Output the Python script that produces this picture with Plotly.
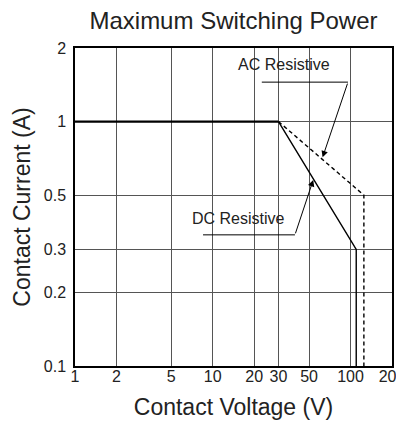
import numpy as np
import plotly.graph_objects as go

# switching power limits (log-log)
dc_v = [1, 30, 110, 110]
dc_a = [1, 1, 0.3, 0.1]
ac_v = [30, 125, 125]
ac_a = [1, 0.5, 0.1]

x_ticks = [1, 2, 5, 10, 20, 30, 50, 100, 200]
y_ticks = [0.1, 0.2, 0.3, 0.5, 1, 2]
y_labels = ['0.1', '0.2', '0.3', '0.5', '1', '2']

# leader lines: text position, elbow start, elbow end, arrow tip
labels = ['AC Resistive', 'DC Resistive']
label_pos = [(32.9, 1.72), (15.5, 0.40)]
leader_start = [(22.7, 1.45), (8.5, 0.344)]
leader_end = [(95.8, 1.45), (39.5, 0.344)]
arrow_tip = [(62.7, 0.714), (53.6, 0.577)]

font = 'Arial, Liberation Sans, sans-serif'
lw = 1.4

fig = go.Figure()
fig.add_trace(go.Scatter(x=dc_v[:2], y=dc_a[:2], mode='lines',
                         line=dict(color='black', width=2.2), hoverinfo='skip'))
fig.add_trace(go.Scatter(x=dc_v[1:], y=dc_a[1:], mode='lines',
                         line=dict(color='black', width=lw), hoverinfo='skip'))
fig.add_trace(go.Scatter(x=ac_v, y=ac_a, mode='lines',
                         line=dict(color='black', width=lw, dash='4px,3px'), hoverinfo='skip'))

annotations = []
for i, name in enumerate(labels):
    s, e, t = leader_start[i], leader_end[i], arrow_tip[i]
    fig.add_trace(go.Scatter(x=[s[0], e[0]], y=[s[1], e[1]], mode='lines',
                             line=dict(color='black', width=1), hoverinfo='skip'))
    annotations.append(dict(x=np.log10(t[0]), y=np.log10(t[1]), xref='x', yref='y',
                            ax=np.log10(e[0]), ay=np.log10(e[1]), axref='x', ayref='y',
                            text='', showarrow=True, arrowhead=2, arrowsize=1.3,
                            arrowwidth=1, arrowcolor='black'))
    annotations.append(dict(x=np.log10(label_pos[i][0]), y=np.log10(label_pos[i][1]),
                            xref='x', yref='y', text=name, showarrow=False,
                            font=dict(family=font, size=16, color='#222')))

# page body has an 8px margin, so the figure is shifted by that much
fig.update_layout(
    width=396, height=415,
    margin=dict(l=67, r=12, t=40, b=57, autoexpand=False),
    paper_bgcolor='white', plot_bgcolor='white',
    showlegend=False,
    title=dict(text='Maximum Switching Power', x=0.5, xref='paper', xanchor='center',
               y=1 - 13 / 415, yanchor='middle',
               font=dict(family=font, size=24, color='#222')),
    annotations=annotations,
)
fig.update_xaxes(type='log', range=[0, np.log10(200)], tickvals=x_ticks,
                 ticktext=[str(v) for v in x_ticks], ticks='', automargin=False,
                 ticklabelstandoff=-5, ticklabeloverflow='allow',
                 showgrid=True, gridcolor='#555', gridwidth=1.2,
                 showline=True, linecolor='black', linewidth=1.5, mirror=True,
                 tickfont=dict(family=font, size=16, color='#222'),
                 title=dict(text='Contact Voltage (V)', standoff=15,
                            font=dict(family=font, size=23, color='#222')),
                 zeroline=False)
fig.update_yaxes(type='log', range=[-1, np.log10(2)], tickvals=y_ticks,
                 ticktext=y_labels, ticks='', automargin=False,
                 ticklabelstandoff=4,
                 showgrid=True, gridcolor='#555', gridwidth=1.2,
                 showline=True, linecolor='black', linewidth=1.5, mirror=True,
                 tickfont=dict(family=font, size=16, color='#222'),
                 title=dict(text='Contact Current (A)', standoff=7,
                            font=dict(family=font, size=23, color='#222')),
                 zeroline=False)

fig.write_html('out.html')
